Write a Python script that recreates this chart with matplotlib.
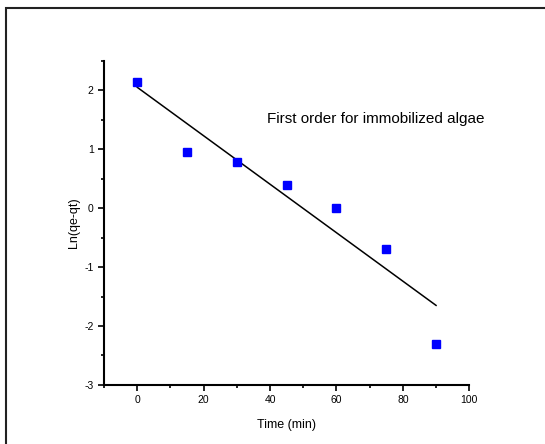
import matplotlib.pyplot as plt
from matplotlib.patches import Rectangle
from matplotlib.ticker import MultipleLocator

plt.rcParams['font.family'] = ['Liberation Sans', 'DejaVu Sans']
plt.rcParams['axes.unicode_minus'] = False

time_min = [0, 15, 30, 45, 60, 75, 90]
ln_qe_qt = [2.14, 0.95, 0.79, 0.39, 0.0, -0.69, -2.31]

# fitted line ends
fit_x = [0, 90]
fit_y = [2.05, -1.65]

fig = plt.figure(figsize=(5.45, 4.44), dpi=100)
fig.patches.append(Rectangle((0.011, -0.2), 1.2, 1.182, transform=fig.transFigure,
                             fill=False, edgecolor='#222222', linewidth=1.5, clip_on=False))

ax = fig.add_axes([0.191, 0.133, 0.67, 0.73])
ax.plot(fit_x, fit_y, color='black', linewidth=1.1)
ax.plot(time_min, ln_qe_qt, 's', color='#0000ff', markersize=5.5)

ax.set_xlim(-10, 100)
ax.set_ylim(-3, 2.5)
ax.xaxis.set_major_locator(MultipleLocator(20))
ax.xaxis.set_minor_locator(MultipleLocator(10))
ax.yaxis.set_major_locator(MultipleLocator(1))
ax.yaxis.set_minor_locator(MultipleLocator(0.5))
ax.tick_params(which='major', direction='out', length=4, width=1.2, labelsize=7.5)
ax.tick_params(which='minor', direction='out', length=2.5, width=1.2)
for s in ['top', 'right']:
    ax.spines[s].set_visible(False)
for s in ['left', 'bottom']:
    ax.spines[s].set_linewidth(1.5)

ax.set_xlabel('Time (min)', fontsize=9, labelpad=10)
ax.set_ylabel('Ln(qe-qt)', fontsize=9, labelpad=3)
ax.text(39, 1.51, 'First order for immobilized algae', fontsize=11, va='center')

fig.savefig('out.png', dpi=100)
